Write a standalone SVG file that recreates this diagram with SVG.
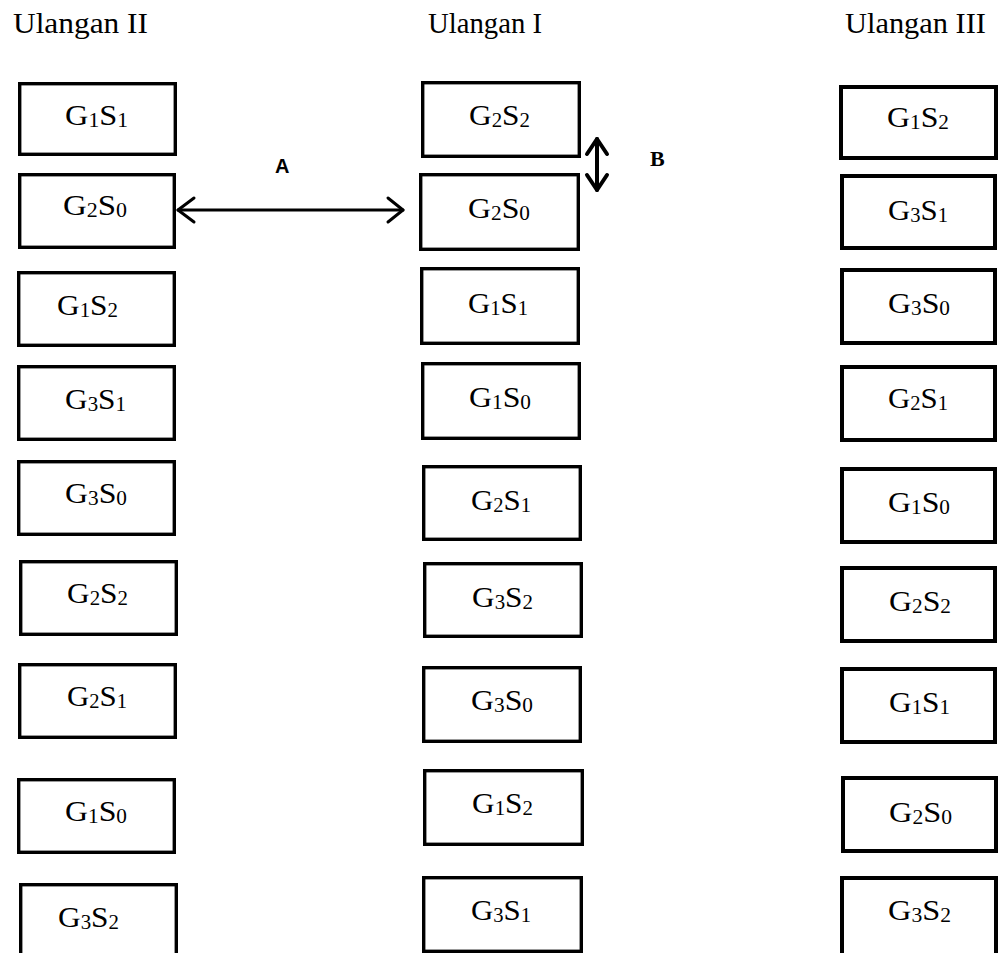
<svg xmlns="http://www.w3.org/2000/svg" width="998" height="953" viewBox="0 0 998 953">
<style>
.box{fill:#fff;stroke:#000;stroke-width:3.4}
.boxr{fill:#fff;stroke:#000;stroke-width:4}
.lbl{font-family:"Liberation Serif","Times New Roman",serif;font-size:30px;fill:#000}
.sub{font-size:20px}
.ttl{font-family:"Liberation Serif","Times New Roman",serif;font-size:30px;fill:#000}
.conn{fill:none;stroke:#000;stroke-width:3;stroke-linecap:round;stroke-linejoin:round}
.connb{fill:none;stroke:#000;stroke-width:4;stroke-linecap:round;stroke-linejoin:round}
</style>
<rect width="998" height="953" fill="#fff"/>
<g id="titles">
<text class="ttl" x="13" y="33" textLength="135" lengthAdjust="spacingAndGlyphs">Ulangan II</text>
<text class="ttl" x="428" y="33" textLength="114" lengthAdjust="spacingAndGlyphs">Ulangan I</text>
<text class="ttl" x="845" y="33" textLength="141" lengthAdjust="spacingAndGlyphs">Ulangan III</text>
</g>
<!-- Ulangan II -->
<g id="l1"><rect class="box" x="19.7" y="83.7" width="155.6" height="70.6"/><text class="lbl" x="65" y="125" textLength="63" lengthAdjust="spacingAndGlyphs">G<tspan class="sub" dy="2">1</tspan><tspan dy="-2">S</tspan><tspan class="sub" dy="2">1</tspan></text></g>
<g id="l2"><rect class="box" x="19.7" y="174.7" width="154.6" height="72.6"/><text class="lbl" x="63" y="215" textLength="64" lengthAdjust="spacingAndGlyphs">G<tspan class="sub" dy="2">2</tspan><tspan dy="-2">S</tspan><tspan class="sub" dy="2">0</tspan></text></g>
<g id="l3"><rect class="box" x="18.7" y="272.7" width="155.6" height="72.6"/><text class="lbl" x="57" y="315" textLength="61" lengthAdjust="spacingAndGlyphs">G<tspan class="sub" dy="2">1</tspan><tspan dy="-2">S</tspan><tspan class="sub" dy="2">2</tspan></text></g>
<g id="l4"><rect class="box" x="18.7" y="366.7" width="155.6" height="72.6"/><text class="lbl" x="65" y="409" textLength="61" lengthAdjust="spacingAndGlyphs">G<tspan class="sub" dy="2">3</tspan><tspan dy="-2">S</tspan><tspan class="sub" dy="2">1</tspan></text></g>
<g id="l5"><rect class="box" x="18.7" y="461.7" width="155.6" height="72.6"/><text class="lbl" x="65" y="503" textLength="62" lengthAdjust="spacingAndGlyphs">G<tspan class="sub" dy="2">3</tspan><tspan dy="-2">S</tspan><tspan class="sub" dy="2">0</tspan></text></g>
<g id="l6"><rect class="box" x="20.7" y="561.7" width="155.6" height="72.6"/><text class="lbl" x="67" y="603" textLength="61" lengthAdjust="spacingAndGlyphs">G<tspan class="sub" dy="2">2</tspan><tspan dy="-2">S</tspan><tspan class="sub" dy="2">2</tspan></text></g>
<g id="l7"><rect class="box" x="19.7" y="664.7" width="155.6" height="72.6"/><text class="lbl" x="67" y="706" textLength="60" lengthAdjust="spacingAndGlyphs">G<tspan class="sub" dy="2">2</tspan><tspan dy="-2">S</tspan><tspan class="sub" dy="2">1</tspan></text></g>
<g id="l8"><rect class="box" x="18.7" y="779.7" width="155.6" height="72.6"/><text class="lbl" x="65" y="821" textLength="62" lengthAdjust="spacingAndGlyphs">G<tspan class="sub" dy="2">1</tspan><tspan dy="-2">S</tspan><tspan class="sub" dy="2">0</tspan></text></g>
<g id="l9"><rect class="box" x="20.7" y="884.7" width="155.6" height="80"/><text class="lbl" x="58" y="927" textLength="61" lengthAdjust="spacingAndGlyphs">G<tspan class="sub" dy="2">3</tspan><tspan dy="-2">S</tspan><tspan class="sub" dy="2">2</tspan></text></g>
<!-- Ulangan I -->
<g id="m1"><rect class="box" x="422.7" y="82.7" width="156.6" height="73.6"/><text class="lbl" x="469" y="125" textLength="61" lengthAdjust="spacingAndGlyphs">G<tspan class="sub" dy="2">2</tspan><tspan dy="-2">S</tspan><tspan class="sub" dy="2">2</tspan></text></g>
<g id="m2"><rect class="box" x="420.7" y="174.7" width="157.6" height="74.6"/><text class="lbl" x="468" y="218" textLength="62" lengthAdjust="spacingAndGlyphs">G<tspan class="sub" dy="2">2</tspan><tspan dy="-2">S</tspan><tspan class="sub" dy="2">0</tspan></text></g>
<g id="m3"><rect class="box" x="421.7" y="268.7" width="156.6" height="74.6"/><text class="lbl" x="468" y="313" textLength="60" lengthAdjust="spacingAndGlyphs">G<tspan class="sub" dy="2">1</tspan><tspan dy="-2">S</tspan><tspan class="sub" dy="2">1</tspan></text></g>
<g id="m4"><rect class="box" x="422.7" y="363.7" width="156.6" height="74.6"/><text class="lbl" x="469" y="407" textLength="62" lengthAdjust="spacingAndGlyphs">G<tspan class="sub" dy="2">1</tspan><tspan dy="-2">S</tspan><tspan class="sub" dy="2">0</tspan></text></g>
<g id="m5"><rect class="box" x="423.7" y="466.7" width="156.6" height="72.6"/><text class="lbl" x="471" y="510" textLength="60" lengthAdjust="spacingAndGlyphs">G<tspan class="sub" dy="2">2</tspan><tspan dy="-2">S</tspan><tspan class="sub" dy="2">1</tspan></text></g>
<g id="m6"><rect class="box" x="424.7" y="563.7" width="156.6" height="72.6"/><text class="lbl" x="472" y="607" textLength="61" lengthAdjust="spacingAndGlyphs">G<tspan class="sub" dy="2">3</tspan><tspan dy="-2">S</tspan><tspan class="sub" dy="2">2</tspan></text></g>
<g id="m7"><rect class="box" x="423.7" y="667.7" width="156.6" height="73.6"/><text class="lbl" x="471" y="710" textLength="62" lengthAdjust="spacingAndGlyphs">G<tspan class="sub" dy="2">3</tspan><tspan dy="-2">S</tspan><tspan class="sub" dy="2">0</tspan></text></g>
<g id="m8"><rect class="box" x="424.7" y="770.7" width="157.6" height="73.6"/><text class="lbl" x="472" y="813" textLength="61" lengthAdjust="spacingAndGlyphs">G<tspan class="sub" dy="2">1</tspan><tspan dy="-2">S</tspan><tspan class="sub" dy="2">2</tspan></text></g>
<g id="m9"><rect class="box" x="423.7" y="877.7" width="157.6" height="73.6"/><text class="lbl" x="471" y="920" textLength="60" lengthAdjust="spacingAndGlyphs">G<tspan class="sub" dy="2">3</tspan><tspan dy="-2">S</tspan><tspan class="sub" dy="2">1</tspan></text></g>
<!-- Ulangan III -->
<g id="r1"><rect class="boxr" x="841" y="87" width="155" height="71"/><text class="lbl" x="887" y="127" textLength="62" lengthAdjust="spacingAndGlyphs">G<tspan class="sub" dy="2">1</tspan><tspan dy="-2">S</tspan><tspan class="sub" dy="2">2</tspan></text></g>
<g id="r2"><rect class="boxr" x="842" y="176" width="153" height="72"/><text class="lbl" x="888" y="220" textLength="60" lengthAdjust="spacingAndGlyphs">G<tspan class="sub" dy="2">3</tspan><tspan dy="-2">S</tspan><tspan class="sub" dy="2">1</tspan></text></g>
<g id="r3"><rect class="boxr" x="842" y="270" width="153" height="73"/><text class="lbl" x="888" y="313" textLength="62" lengthAdjust="spacingAndGlyphs">G<tspan class="sub" dy="2">3</tspan><tspan dy="-2">S</tspan><tspan class="sub" dy="2">0</tspan></text></g>
<g id="r4"><rect class="boxr" x="842" y="367" width="153" height="73"/><text class="lbl" x="888" y="408" textLength="60" lengthAdjust="spacingAndGlyphs">G<tspan class="sub" dy="2">2</tspan><tspan dy="-2">S</tspan><tspan class="sub" dy="2">1</tspan></text></g>
<g id="r5"><rect class="boxr" x="842" y="469" width="153" height="73"/><text class="lbl" x="888" y="512" textLength="62" lengthAdjust="spacingAndGlyphs">G<tspan class="sub" dy="2">1</tspan><tspan dy="-2">S</tspan><tspan class="sub" dy="2">0</tspan></text></g>
<g id="r6"><rect class="boxr" x="842" y="568" width="153" height="73"/><text class="lbl" x="889" y="611" textLength="62" lengthAdjust="spacingAndGlyphs">G<tspan class="sub" dy="2">2</tspan><tspan dy="-2">S</tspan><tspan class="sub" dy="2">2</tspan></text></g>
<g id="r7"><rect class="boxr" x="842" y="669" width="153" height="73"/><text class="lbl" x="889" y="712" textLength="61" lengthAdjust="spacingAndGlyphs">G<tspan class="sub" dy="2">1</tspan><tspan dy="-2">S</tspan><tspan class="sub" dy="2">1</tspan></text></g>
<g id="r8"><rect class="boxr" x="843" y="778" width="153" height="73"/><text class="lbl" x="889" y="822" textLength="63" lengthAdjust="spacingAndGlyphs">G<tspan class="sub" dy="2">2</tspan><tspan dy="-2">S</tspan><tspan class="sub" dy="2">0</tspan></text></g>
<g id="r9"><rect class="boxr" x="842" y="878" width="154" height="80"/><text class="lbl" x="888" y="920" textLength="63" lengthAdjust="spacingAndGlyphs">G<tspan class="sub" dy="2">3</tspan><tspan dy="-2">S</tspan><tspan class="sub" dy="2">2</tspan></text></g>
<!-- connectors -->
<g id="connectors">
<line class="conn" x1="178" y1="210" x2="403" y2="210"/>
<polyline class="conn" points="194,198 178,210 194,222"/>
<polyline class="conn" points="388,198 403,210 388,222"/>
<line class="connb" x1="597" y1="139" x2="597" y2="190"/>
<polyline class="connb" points="587,154 597,139 607,154"/>
<polyline class="connb" points="587,175 597,190 607,175"/>
<text x="275" y="173" style="font-family:'Liberation Sans',Arial,sans-serif;font-weight:bold;font-size:20px">A</text>
<text x="650" y="166" style="font-family:'Liberation Serif','Times New Roman',serif;font-weight:bold;font-size:22px">B</text>
</g>
</svg>
